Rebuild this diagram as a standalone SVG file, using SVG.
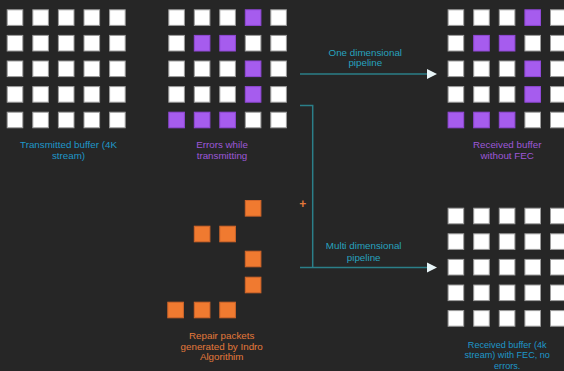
<svg xmlns="http://www.w3.org/2000/svg" width="564" height="371" viewBox="0 0 564 371">
<style>
.w{fill:#ffffff;stroke:#9c9c9c;stroke-width:1}
.p{fill:#a65cee;stroke:#9048d6;stroke-width:1}
.o{fill:#f07a30;stroke:#d0652a;stroke-width:1}
text{font-family:"Liberation Sans",Arial,sans-serif;font-size:9.8px;text-anchor:middle}
.tb{fill:#1e97c9}
.tp{fill:#9d58d8}
.to{fill:#e4793b}
.tc{fill:#27a2bf}
.sm{font-size:9.1px}
.ln{fill:none;stroke:#2b7f89;stroke-width:1.5}
.ah{fill:#e8f5f8}
</style>
<rect width="564" height="371" fill="#262626"/>

<g id="transmitted-buffer">
<g>
<rect class="w" x="7.2" y="9.8" width="15.6" height="15.6"/><rect class="w" x="32.8" y="9.8" width="15.6" height="15.6"/><rect class="w" x="58.4" y="9.8" width="15.6" height="15.6"/><rect class="w" x="84" y="9.8" width="15.6" height="15.6"/><rect class="w" x="109.6" y="9.8" width="15.6" height="15.6"/>
<rect class="w" x="7.2" y="35.4" width="15.6" height="15.6"/><rect class="w" x="32.8" y="35.4" width="15.6" height="15.6"/><rect class="w" x="58.4" y="35.4" width="15.6" height="15.6"/><rect class="w" x="84" y="35.4" width="15.6" height="15.6"/><rect class="w" x="109.6" y="35.4" width="15.6" height="15.6"/>
<rect class="w" x="7.2" y="61" width="15.6" height="15.6"/><rect class="w" x="32.8" y="61" width="15.6" height="15.6"/><rect class="w" x="58.4" y="61" width="15.6" height="15.6"/><rect class="w" x="84" y="61" width="15.6" height="15.6"/><rect class="w" x="109.6" y="61" width="15.6" height="15.6"/>
<rect class="w" x="7.2" y="86.6" width="15.6" height="15.6"/><rect class="w" x="32.8" y="86.6" width="15.6" height="15.6"/><rect class="w" x="58.4" y="86.6" width="15.6" height="15.6"/><rect class="w" x="84" y="86.6" width="15.6" height="15.6"/><rect class="w" x="109.6" y="86.6" width="15.6" height="15.6"/>
<rect class="w" x="7.2" y="112.2" width="15.6" height="15.6"/><rect class="w" x="32.8" y="112.2" width="15.6" height="15.6"/><rect class="w" x="58.4" y="112.2" width="15.6" height="15.6"/><rect class="w" x="84" y="112.2" width="15.6" height="15.6"/><rect class="w" x="109.6" y="112.2" width="15.6" height="15.6"/>
</g>
<text class="tb" x="68.5" y="148.4">Transmitted buffer (4K</text>
<text class="tb" x="68.5" y="159">stream)</text>
</g>

<g id="errors-buffer">
<g>
<rect class="w" x="168.8" y="9.8" width="15.6" height="15.6"/><rect class="w" x="194.3" y="9.8" width="15.6" height="15.6"/><rect class="w" x="219.8" y="9.8" width="15.6" height="15.6"/><rect class="p" x="245.3" y="9.8" width="15.6" height="15.6"/><rect class="w" x="270.8" y="9.8" width="15.6" height="15.6"/>
<rect class="w" x="168.8" y="35.4" width="15.6" height="15.6"/><rect class="p" x="194.3" y="35.4" width="15.6" height="15.6"/><rect class="p" x="219.8" y="35.4" width="15.6" height="15.6"/><rect class="w" x="245.3" y="35.4" width="15.6" height="15.6"/><rect class="w" x="270.8" y="35.4" width="15.6" height="15.6"/>
<rect class="w" x="168.8" y="61" width="15.6" height="15.6"/><rect class="w" x="194.3" y="61" width="15.6" height="15.6"/><rect class="w" x="219.8" y="61" width="15.6" height="15.6"/><rect class="p" x="245.3" y="61" width="15.6" height="15.6"/><rect class="w" x="270.8" y="61" width="15.6" height="15.6"/>
<rect class="w" x="168.8" y="86.6" width="15.6" height="15.6"/><rect class="w" x="194.3" y="86.6" width="15.6" height="15.6"/><rect class="w" x="219.8" y="86.6" width="15.6" height="15.6"/><rect class="p" x="245.3" y="86.6" width="15.6" height="15.6"/><rect class="w" x="270.8" y="86.6" width="15.6" height="15.6"/>
<rect class="p" x="168.8" y="112.2" width="15.6" height="15.6"/><rect class="p" x="194.3" y="112.2" width="15.6" height="15.6"/><rect class="p" x="219.8" y="112.2" width="15.6" height="15.6"/><rect class="w" x="245.3" y="112.2" width="15.6" height="15.6"/><rect class="w" x="270.8" y="112.2" width="15.6" height="15.6"/>
</g>
<text class="tp" x="222" y="148.4">Errors while</text>
<text class="tp" x="222" y="159">transmitting</text>
</g>

<g id="received-without-fec">
<g>
<rect class="w" x="448.1" y="9.8" width="15.6" height="15.6"/><rect class="w" x="473.7" y="9.8" width="15.6" height="15.6"/><rect class="w" x="499.3" y="9.8" width="15.6" height="15.6"/><rect class="p" x="524.9" y="9.8" width="15.6" height="15.6"/><rect class="w" x="550.5" y="9.8" width="15.6" height="15.6"/>
<rect class="w" x="448.1" y="35.4" width="15.6" height="15.6"/><rect class="p" x="473.7" y="35.4" width="15.6" height="15.6"/><rect class="p" x="499.3" y="35.4" width="15.6" height="15.6"/><rect class="w" x="524.9" y="35.4" width="15.6" height="15.6"/><rect class="w" x="550.5" y="35.4" width="15.6" height="15.6"/>
<rect class="w" x="448.1" y="61" width="15.6" height="15.6"/><rect class="w" x="473.7" y="61" width="15.6" height="15.6"/><rect class="w" x="499.3" y="61" width="15.6" height="15.6"/><rect class="p" x="524.9" y="61" width="15.6" height="15.6"/><rect class="w" x="550.5" y="61" width="15.6" height="15.6"/>
<rect class="w" x="448.1" y="86.6" width="15.6" height="15.6"/><rect class="w" x="473.7" y="86.6" width="15.6" height="15.6"/><rect class="w" x="499.3" y="86.6" width="15.6" height="15.6"/><rect class="p" x="524.9" y="86.6" width="15.6" height="15.6"/><rect class="w" x="550.5" y="86.6" width="15.6" height="15.6"/>
<rect class="p" x="448.1" y="112.2" width="15.6" height="15.6"/><rect class="p" x="473.7" y="112.2" width="15.6" height="15.6"/><rect class="p" x="499.3" y="112.2" width="15.6" height="15.6"/><rect class="w" x="524.9" y="112.2" width="15.6" height="15.6"/><rect class="w" x="550.5" y="112.2" width="15.6" height="15.6"/>
</g>
<text class="tp" x="507.2" y="148.4">Received buffer</text>
<text class="tp" x="507.2" y="159">without FEC</text>
</g>

<g id="repair-packets">
<g>
<rect class="o" x="245.3" y="200.5" width="15.6" height="15.6"/>
<rect class="o" x="194.3" y="226.2" width="15.6" height="15.6"/><rect class="o" x="219.8" y="226.2" width="15.6" height="15.6"/>
<rect class="o" x="245.3" y="251.2" width="15.6" height="15.6"/>
<rect class="o" x="245.3" y="277.2" width="15.6" height="15.6"/>
<rect class="o" x="167.8" y="302.2" width="15.6" height="15.6"/><rect class="o" x="194.3" y="302.2" width="15.6" height="15.6"/><rect class="o" x="219.8" y="302.2" width="15.6" height="15.6"/>
</g>
<text class="to" x="221.7" y="339">Repair packets</text>
<text class="to" x="221.7" y="349.6">generated by Indro</text>
<text class="to" x="221.7" y="360.2">Algorithim</text>
</g>

<g id="received-with-fec">
<g>
<rect class="w" x="448.1" y="208.2" width="15.6" height="15.6"/><rect class="w" x="473.7" y="208.2" width="15.6" height="15.6"/><rect class="w" x="499.3" y="208.2" width="15.6" height="15.6"/><rect class="w" x="524.9" y="208.2" width="15.6" height="15.6"/><rect class="w" x="550.5" y="208.2" width="15.6" height="15.6"/>
<rect class="w" x="448.1" y="233.8" width="15.6" height="15.6"/><rect class="w" x="473.7" y="233.8" width="15.6" height="15.6"/><rect class="w" x="499.3" y="233.8" width="15.6" height="15.6"/><rect class="w" x="524.9" y="233.8" width="15.6" height="15.6"/><rect class="w" x="550.5" y="233.8" width="15.6" height="15.6"/>
<rect class="w" x="448.1" y="259.4" width="15.6" height="15.6"/><rect class="w" x="473.7" y="259.4" width="15.6" height="15.6"/><rect class="w" x="499.3" y="259.4" width="15.6" height="15.6"/><rect class="w" x="524.9" y="259.4" width="15.6" height="15.6"/><rect class="w" x="550.5" y="259.4" width="15.6" height="15.6"/>
<rect class="w" x="448.1" y="285" width="15.6" height="15.6"/><rect class="w" x="473.7" y="285" width="15.6" height="15.6"/><rect class="w" x="499.3" y="285" width="15.6" height="15.6"/><rect class="w" x="524.9" y="285" width="15.6" height="15.6"/><rect class="w" x="550.5" y="285" width="15.6" height="15.6"/>
<rect class="w" x="448.1" y="310.6" width="15.6" height="15.6"/><rect class="w" x="473.7" y="310.6" width="15.6" height="15.6"/><rect class="w" x="499.3" y="310.6" width="15.6" height="15.6"/><rect class="w" x="524.9" y="310.6" width="15.6" height="15.6"/><rect class="w" x="550.5" y="310.6" width="15.6" height="15.6"/>
</g>
<text class="tb sm" x="507.2" y="347.6">Received buffer (4k</text>
<text class="tb sm" x="507.2" y="358.1">stream) with FEC, no</text>
<text class="tb sm" x="507.2" y="368.6">errors.</text>
</g>

<g id="connectors">
<path class="ln" d="M300,74 H428"/>
<polygon class="ah" points="427,69 437,74 427,79"/>
<text class="tc" x="365.3" y="55.5">One dimensional</text>
<text class="tc" x="365.3" y="66.3">pipeline</text>
<path class="ln" d="M300,105.5 H312.7 V267.5"/>
<path class="ln" d="M300,267.5 H428"/>
<polygon class="ah" points="427,262.5 437,267.5 427,272.5"/>
<text class="to" x="302.7" y="208" style="font-size:12px;font-weight:bold">+</text>
<text class="tc" x="363.7" y="249">Multi dimensional</text>
<text class="tc" x="363.7" y="260.5">pipeline</text>
</g>
</svg>
